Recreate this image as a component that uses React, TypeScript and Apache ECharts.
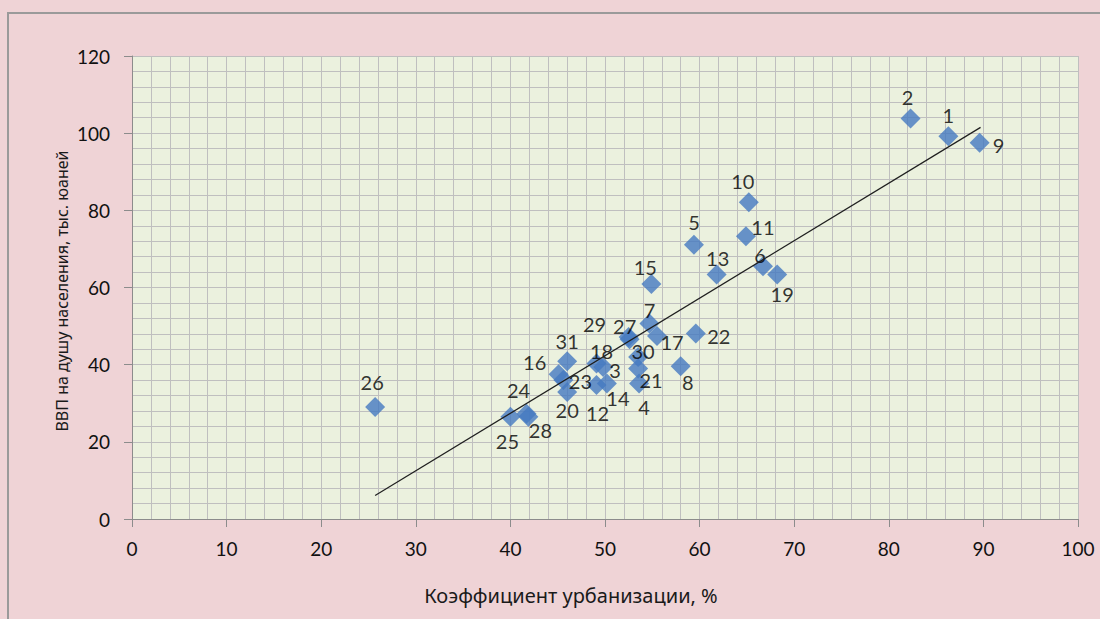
import React, { useEffect, useRef } from "react";
import * as echarts from "echarts";

// Region number, urbanization rate (%) and GDP per capita (thousand yuan)
const ids = [1, 2, 3, 4, 5, 6, 7, 8, 9, 10, 11, 12, 13, 14, 15, 16, 17, 18, 19, 20, 21, 22, 23, 24, 25, 26, 27, 28, 29, 30, 31];
const urbanization = [86.3, 82.3, 49.8, 53.6, 59.4, 66.7, 54.7, 58.0, 89.6, 65.2, 64.9, 49.1, 61.8, 50.2, 54.9, 45.1, 55.5, 49.1, 68.2, 46.0, 53.5, 59.6, 45.6, 41.7, 40.0, 25.7, 52.5, 41.9, 52.6, 53.5, 46.0];
const gdpPerCapita = [99.2, 103.8, 39.4, 35.1, 71.1, 65.5, 50.7, 39.6, 97.5, 82.1, 73.3, 34.7, 63.4, 35.1, 60.9, 37.5, 47.4, 40.3, 63.4, 32.9, 39.0, 48.1, 36.0, 27.3, 26.5, 29.0, 47.2, 26.5, 46.6, 42.0, 40.9];

// Linear trend line end points
const trendX = [25.7, 89.7];
const trendY = [6.1, 101.5];

const xAxisTitle = "Коэффициент урбанизации, %";
const yAxisTitle = "ВВП на душу населения, тыс. юаней";

// label offsets (style only), keyed by region number
const labelOffsets: Record<number, [number, number]> = {
  1: [0, -21], 2: [-3, -22], 3: [12, 3], 4: [5, 23], 5: [0, -23], 6: [-3, -11],
  7: [0, -13], 8: [7, 16], 9: [19, 2], 10: [-6, -21], 11: [17, -9], 12: [1, 28],
  13: [1, -16], 14: [11, 14], 15: [-6, -17], 16: [-24, -12], 17: [15, 6], 18: [5, -13],
  19: [5, 20], 20: [0, 18], 21: [13, 11], 22: [23, 3], 23: [17, 1], 24: [-8, -24],
  25: [-3, 24], 26: [-3, -25], 27: [-4, -11], 28: [12, 13], 29: [-35, -15], 30: [5, -6],
  31: [0, -20],
};

const FONT = "Lato";
const TITLE_FONT = "Noto Sans";
const SYMBOL = 20;

export default function App() {
  const ref = useRef<HTMLDivElement>(null);
  useEffect(() => {
    const chart = echarts.init(ref.current!, null, { renderer: "svg" });
    const gridColor = "#bfbfbf";
    const axisColor = "#8c8c8c";
    chart.setOption({
      animation: false,
      backgroundColor: "#efd3d6",
      grid: {
        left: 132,
        top: 56,
        right: 22,
        bottom: 100,
        show: true,
        backgroundColor: "#ebf1de",
        borderWidth: 0,
      },
      xAxis: {
        type: "value",
        min: 0,
        max: 100,
        interval: 10,
        axisLine: { show: true, onZero: false, lineStyle: { color: axisColor, width: 1 } },
        axisTick: { show: true, length: 8, lineStyle: { color: axisColor } },
        axisLabel: { margin: 20, fontSize: 19, color: "#111", fontFamily: FONT },
        splitLine: { show: true, lineStyle: { color: gridColor, width: 1 } },
        minorTick: { show: false, splitNumber: 5 },
        minorSplitLine: { show: true, lineStyle: { color: gridColor, width: 1 } },
      },
      yAxis: {
        type: "value",
        min: 0,
        max: 120,
        interval: 20,
        axisLine: { show: true, onZero: false, lineStyle: { color: axisColor, width: 1 } },
        axisTick: { show: true, length: 8, lineStyle: { color: axisColor } },
        axisLabel: { margin: 22, fontSize: 19, color: "#111", fontFamily: FONT },
        splitLine: { show: true, lineStyle: { color: gridColor, width: 1 } },
        minorTick: { show: false, splitNumber: 5 },
        minorSplitLine: { show: true, lineStyle: { color: gridColor, width: 1 } },
      },
      graphic: [
        {
          type: "rect",
          silent: true,
          shape: { x: 8, y: 13, width: 1300, height: 800 },
          style: { fill: "none", stroke: "#9a9a9a", lineWidth: 2 },
          z: 100,
        },
        {
          type: "text",
          x: 62,
          y: 291,
          rotation: Math.PI / 2,
          style: {
            text: yAxisTitle,
            textAlign: "center",
            textVerticalAlign: "middle",
            fontSize: 16,
            fontFamily: TITLE_FONT,
            fill: "#1a1a1a",
          },
        },
        {
          type: "text",
          x: 571,
          y: 595,
          style: {
            text: xAxisTitle,
            textAlign: "center",
            textVerticalAlign: "middle",
            fontSize: 20,
            fontFamily: TITLE_FONT,
            fill: "#1a1a1a",
          },
        },
      ],
      series: [
        {
          type: "scatter",
          symbol: "diamond",
          symbolSize: SYMBOL,
          itemStyle: { color: "#4579c0" },
          z: 2,
          label: {
            show: true,
            fontSize: 20,
            fontFamily: FONT,
            color: "#000",
            align: "center",
            verticalAlign: "middle",
            formatter: (p: any) => String(ids[p.dataIndex]),
          },
          labelLayout: { hideOverlap: false },
          data: ids.map((id, i) => {
            const [dx, dy] = labelOffsets[id];
            return {
              value: [urbanization[i], gdpPerCapita[i]],
              label: { position: [SYMBOL / 2 + dx, SYMBOL / 2 + dy] },
            };
          }),
        },
        {
          type: "line",
          symbol: "none",
          silent: true,
          z: 3,
          lineStyle: { color: "#1f1f1f", width: 1.2 },
          data: [
            [trendX[0], trendY[0]],
            [trendX[1], trendY[1]],
          ],
        },
      ],
    });
    return () => chart.dispose();
  }, []);
  return (
    <div
      ref={ref}
      style={{ position: "absolute", left: 0, top: 0, width: 1100, height: 619 }}
    />
  );
}
